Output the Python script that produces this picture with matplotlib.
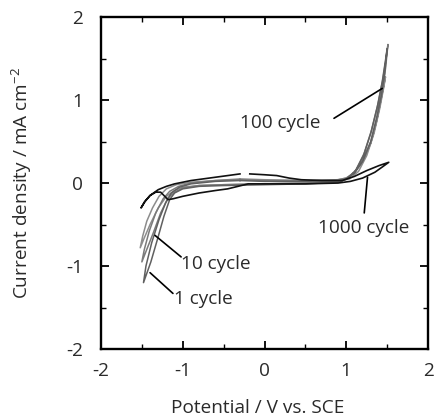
import numpy as np
import matplotlib.pyplot as plt

plt.rcParams['font.family'] = ['Open Sans', 'DejaVu Sans']
plt.rcParams['mathtext.fontset'] = 'custom'
plt.rcParams['mathtext.rm'] = 'Open Sans'
plt.rcParams['axes.unicode_minus'] = False

# 1 cycle
x_c1 = [-0.3, 0.0, 0.5, 0.9, 1.0, 1.1, 1.2, 1.3, 1.37, 1.43, 1.47, 1.50, 1.48, 1.44, 1.38, 1.30, 1.21, 1.11, 1.01, 0.9, 0.5, 0.0, -0.5, -0.8, -1.0, -1.1,
        -1.16, -1.23, -1.31, -1.39, -1.48, -1.45, -1.38, -1.29, -1.21, -1.14, -1.04, -0.9, -0.6, -0.3]
y_c1 = [0.03, 0.02, 0.02, 0.03, 0.05, 0.12, 0.26, 0.50, 0.78, 1.06, 1.32, 1.62, 1.48, 1.22, 0.92, 0.60, 0.33, 0.14, 0.05, 0.01, -0.01, -0.02, -0.03, -0.04, -0.07, -0.12,
        -0.2, -0.40, -0.68, -0.95, -1.2, -1.0, -0.72, -0.44, -0.24, -0.12, -0.05, -0.01, 0.02, 0.03]
# 10 cycle
x_c10 = [-0.3, 0.0, 0.5, 0.9, 1.0, 1.1, 1.2, 1.3, 1.38, 1.44, 1.48, 1.51, 1.49, 1.45, 1.39, 1.31, 1.22, 1.12, 1.02, 0.9, 0.5, 0.0, -0.5, -0.8, -1.0, -1.1,
         -1.18, -1.27, -1.36, -1.44, -1.5, -1.47, -1.41, -1.33, -1.24, -1.16, -1.05, -0.9, -0.6, -0.3]
y_c10 = [0.04, 0.03, 0.03, 0.04, 0.06, 0.13, 0.27, 0.50, 0.80, 1.10, 1.38, 1.67, 1.52, 1.26, 0.96, 0.64, 0.36, 0.16, 0.06, 0.02, 0.0, -0.01, -0.02, -0.03, -0.06, -0.11,
          -0.18, -0.36, -0.60, -0.80, -0.95, -0.80, -0.58, -0.36, -0.19, -0.10, -0.04, 0.0, 0.03, 0.04]
# 100 cycle
x_c100 = [-0.3, 0.0, 0.5, 0.9, 1.0, 1.1, 1.2, 1.3, 1.37, 1.42, 1.46, 1.48, 1.46, 1.41, 1.34, 1.25, 1.15, 1.04, 0.9, 0.5, 0.0, -0.5, -0.8, -1.0, -1.1,
          -1.2, -1.3, -1.4, -1.47, -1.52, -1.49, -1.44, -1.37, -1.29, -1.2, -1.08, -0.9, -0.6, -0.3]
y_c100 = [0.05, 0.04, 0.03, 0.04, 0.06, 0.12, 0.26, 0.48, 0.74, 0.98, 1.18, 1.28, 1.16, 0.90, 0.60, 0.33, 0.14, 0.05, 0.02, 0.0, -0.01, -0.02, -0.03, -0.05, -0.09,
           -0.16, -0.30, -0.50, -0.66, -0.78, -0.64, -0.46, -0.30, -0.16, -0.07, -0.02, 0.01, 0.03, 0.05]
# 1000 cycle
x_c1000 = [-0.18, 0.0, 0.15, 0.3, 0.45, 0.7, 0.95, 1.1, 1.25, 1.4, 1.52, 1.45, 1.35, 1.2, 1.05, 0.9, 0.5, 0.0, -0.2, -0.45, -0.6, -0.8, -1.0, -1.12, -1.18,
           -1.22, -1.27, -1.33, -1.4, -1.46, -1.51, -1.47, -1.4, -1.3, -1.2, -1.1, -0.9, -0.6, -0.3]
y_c1000 = [0.11, 0.10, 0.09, 0.06, 0.04, 0.03, 0.03, 0.08, 0.15, 0.21, 0.25, 0.20, 0.13, 0.06, 0.02, 0.0, -0.01, -0.01, -0.01, -0.07, -0.09, -0.12, -0.16, -0.19, -0.2,
           -0.16, -0.11, -0.11, -0.15, -0.22, -0.30, -0.23, -0.15, -0.08, -0.04, -0.01, 0.03, 0.07, 0.11]

txt = '#2a2a2a'
fs = 13.7

plt.figure(figsize=(4.34, 4.16), dpi=100)
ax = plt.axes([0.2327, 0.161, 0.7535, 0.798])

ax.plot(x_c100, y_c100, color='#8c8c8c', lw=1.1)
ax.plot(x_c10, y_c10, color='#7a7a7a', lw=1.1)
ax.plot(x_c1, y_c1, color='#606060', lw=1.1)
ax.plot(x_c1000, y_c1000, color='#111111', lw=1.2)

lead = dict(arrowstyle='-', color='black', lw=1.2, shrinkA=0, shrinkB=0)
ax.annotate('', xy=(1.44, 1.14), xytext=(0.85, 0.78), arrowprops=lead)
ax.annotate('', xy=(1.26, 0.07), xytext=(1.22, -0.36), arrowprops=lead)
ax.annotate('', xy=(-1.34, -0.63), xytext=(-1.02, -0.89), arrowprops=lead)
ax.annotate('', xy=(-1.40, -1.08), xytext=(-1.12, -1.33), arrowprops=lead)

ax.text(-0.30, 0.72, '100 cycle', fontsize=fs, va='center', color=txt)
ax.text(0.66, -0.54, '1000 cycle', fontsize=fs, va='center', color=txt)
ax.text(-1.02, -0.98, '10 cycle', fontsize=fs, va='center', color=txt)
ax.text(-1.11, -1.40, '1 cycle', fontsize=fs, va='center', color=txt)

ax.set_xlim(-2, 2)
ax.set_ylim(-2, 2)
ax.set_xticks(np.arange(-2, 3, 1))
ax.set_yticks(np.arange(-2, 3, 1))
ax.set_xticks(np.arange(-2, 2.01, 0.5), minor=True)
ax.set_yticks(np.arange(-2, 2.01, 0.5), minor=True)
ax.tick_params(which='both', direction='in', top=True, right=True, labelsize=fs, labelcolor=txt)
ax.tick_params(axis='x', which='major', pad=9)
ax.tick_params(axis='y', which='major', pad=13)
ax.tick_params(which='major', length=6, width=1.3)
ax.tick_params(which='minor', length=3.5, width=1.0)
for s in ax.spines.values():
    s.set_linewidth(1.7)

ax.set_xlabel('Potential / V vs. SCE', fontsize=fs, color=txt)
ax.set_ylabel('Current density / mA cm$^{\\mathregular{-2}}$', fontsize=fs, color=txt)
ax.xaxis.set_label_coords(0.48, -0.152)
ax.yaxis.set_label_coords(-0.205, 0.5)

plt.savefig('out.png')
